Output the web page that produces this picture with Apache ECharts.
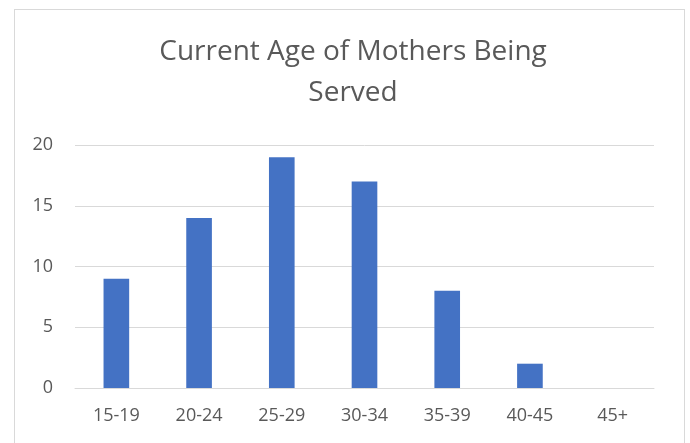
<!DOCTYPE html>
<html>
<head>
<meta charset="utf-8">
<script src="https://cdn.jsdelivr.net/npm/echarts@6/dist/echarts.min.js"></script>
<style>
  html, body { margin: 0; padding: 0; background: #fff; }
  #chart { width: 690px; height: 443px; }
  .frame {
    position: absolute; left: 14px; top: 9px; width: 669px; height: 440px;
    border: 1px solid #d9d9d9; pointer-events: none;
  }
</style>
</head>
<body>
<div id="chart"></div>
<div class="frame"></div>
<script>
const categories = ['15-19', '20-24', '25-29', '30-34', '35-39', '40-45', '45+']
const mothers = [9, 14, 19, 17, 8, 2, 0]

const chart = echarts.init(document.getElementById('chart'))

chart.setOption({
  animation: false,
  title: {
    text: 'Current Age of Mothers Being\nServed',
    left: 348,
    top: 27,
    textAlign: 'center',
    textStyle: {
      fontFamily: 'Open Sans',
      fontSize: 28,
      fontWeight: 'normal',
      color: '#595959',
      lineHeight: 41
    }
  },
  grid: { left: 75, right: 36, top: 145, bottom: 55 },
  xAxis: {
    type: 'category',
    data: categories,
    axisLine: { lineStyle: { color: '#d9d9d9' } },
    axisTick: { show: false },
    axisLabel: { color: '#595959', fontSize: 18, fontFamily: 'Open Sans', margin: 19 }
  },
  yAxis: {
    type: 'value',
    min: 0,
    max: 20,
    interval: 5,
    axisLine: { show: false },
    axisTick: { show: false },
    splitLine: { lineStyle: { color: '#d9d9d9' } },
    axisLabel: { color: '#595959', fontSize: 18, fontFamily: 'Open Sans', margin: 22 }
  },
  series: [{
    type: 'bar',
    data: mothers,
    barWidth: '31%',
    itemStyle: { color: '#4472c4' }
  }]
})
</script>
</body>
</html>
